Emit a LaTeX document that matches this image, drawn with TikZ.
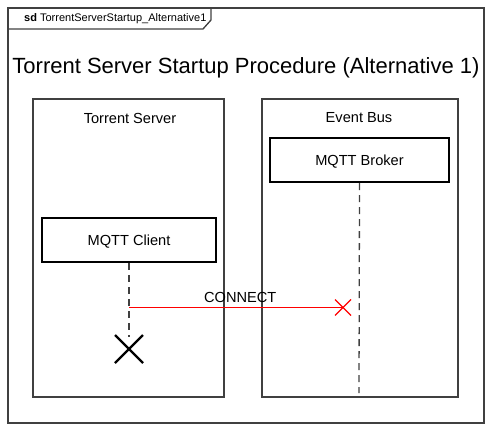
\documentclass[tikz,border=0pt]{standalone}
\usepackage{fontspec}
\setmainfont{Liberation Sans}
\usetikzlibrary{calc}
\begin{document}
\begin{tikzpicture}[x=1pt,y=-1pt,
	lbl/.style={font=\fontsize{14.6}{17}\selectfont},
	frame/.style={draw=black!75,line width=1.3pt},
	part/.style={draw=black!75,line width=1.1pt,minimum width=191pt,minimum height=298pt,inner sep=0pt},
	actor/.style={draw=black,line width=2.2pt,inner sep=0pt,lbl,text height=13.5pt},
	lifeline/.style={draw=black!75,line width=1.3pt,dash pattern=on 7pt off 5pt},
	msg/.style={color=red,line width=1.2pt}]
	\useasboundingbox (0,0) rectangle (492,431);
	% frame and tab
	\draw[frame] (8,8) rectangle (484,423);
	\draw[frame] (8,29) -- (203,29) -- (211,20) -- (211,8);
	\node[font=\fontsize{11}{13}\selectfont,anchor=west,inner sep=0pt] (tab) at (24,18.5) {\textbf{sd} TorrentServerStartup\_Alternative1};
	\node[font=\fontsize{22}{26}\selectfont] (title) at (246,67.5) {Torrent Server Startup Procedure (Alternative 1)};
	% parts
	\node[part] (server) at (128.5,248) {};
	\node[part,minimum width=196pt] (bus) at (360,248) {};
	\node[lbl] (serverlbl) at (130,118) {Torrent Server};
	\node[lbl] (buslbl) at (359,118) {Event Bus};
	\node[actor,minimum width=179pt,minimum height=44pt] (broker) at (359.5,160) {MQTT Broker};
	\node[actor,minimum width=174pt,minimum height=44pt] (client) at (129,240) {MQTT Client};
	% lifelines
	\coordinate (brokerend) at (359,393);
	\coordinate (kill) at (129,349);
	\coordinate (killtop) at (129,337);
	\draw[lifeline] (broker.south) -- (brokerend);
	\draw[lifeline] (client.south) -- (killtop);
	\draw[line width=2.2pt] ($(kill)+(-14,-14)$) -- ($(kill)+(14,14)$);
	\draw[line width=2.2pt] ($(kill)+(-14,14)$) -- ($(kill)+(14,-14)$);
	% message
	\coordinate (msgstart) at (129,307.5);
	\coordinate (lost) at (343,307.5);
	\draw[msg] (msgstart) -- (lost);
	\node[lbl,above=1pt] (msglbl) at ($(msgstart)!0.52!(lost)$) {CONNECT};
	\draw[msg] ($(lost)+(-8,-8)$) -- ($(lost)+(8,8)$);
	\draw[msg] ($(lost)+(-8,8)$) -- ($(lost)+(8,-8)$);
\end{tikzpicture}
\end{document}
